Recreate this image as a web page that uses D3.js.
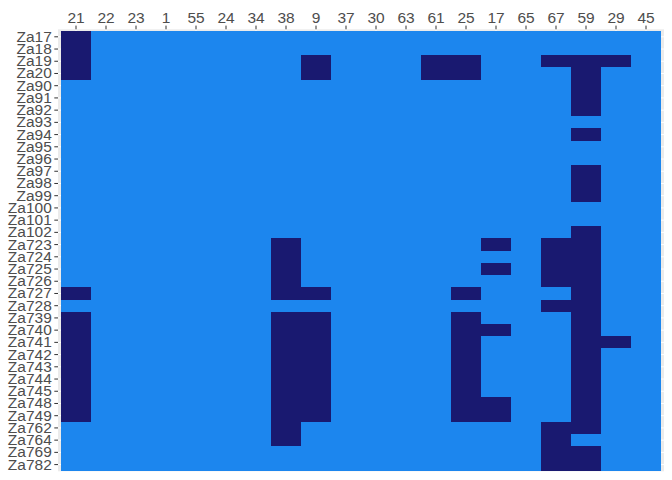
<!DOCTYPE html>
<html>
<head>
<meta charset="utf-8">
<script src="https://cdn.jsdelivr.net/npm/d3@7"></script>
<style>
  body { margin: 0; background: #fff; }
  text { font-family: "Liberation Sans", Arial, sans-serif; }
</style>
</head>
<body>
<svg id="chart" width="672" height="480"></svg>
<script>
var cols = ['21', '22', '23', '1', '55', '24', '34', '38', '9', '37',
            '30', '63', '61', '25', '17', '65', '67', '59', '29', '45'];
var rows = ['Za17', 'Za18', 'Za19', 'Za20', 'Za90', 'Za91', 'Za92', 'Za93', 'Za94',
            'Za95', 'Za96', 'Za97', 'Za98', 'Za99', 'Za100', 'Za101', 'Za102',
            'Za723', 'Za724', 'Za725', 'Za726', 'Za727', 'Za728', 'Za739', 'Za740',
            'Za741', 'Za742', 'Za743', 'Za744', 'Za745', 'Za748', 'Za749',
            'Za762', 'Za764', 'Za769', 'Za782'];
// columns marked 1 (dark) for each row, same order as rows
var present = [
  ['21'], ['21'],
  ['21', '9', '61', '25', '67', '59', '29'],
  ['21', '9', '61', '25', '59'],
  ['59'], ['59'], ['59'], [], ['59'], [], [], ['59'], ['59'], ['59'], [], [], ['59'],
  ['38', '17', '67', '59'],
  ['38', '67', '59'],
  ['38', '17', '67', '59'],
  ['38', '67', '59'],
  ['21', '38', '9', '25', '59'],
  ['67', '59'],
  ['21', '38', '9', '25', '59'],
  ['21', '38', '9', '25', '17', '59'],
  ['21', '38', '9', '25', '59', '29'],
  ['21', '38', '9', '25', '59'],
  ['21', '38', '9', '25', '59'],
  ['21', '38', '9', '25', '59'],
  ['21', '38', '9', '25', '59'],
  ['21', '38', '9', '25', '17', '59'],
  ['21', '38', '9', '25', '17', '59'],
  ['38', '67', '59'],
  ['38', '67'],
  ['67', '59'],
  ['67', '59']
];

var cells = [];
rows.forEach(function(r, i) {
  cols.forEach(function(c) {
    cells.push({row: r, col: c, v: present[i].indexOf(c) >= 0 ? 1 : 0});
  });
});

var svg = d3.select('#chart');
var x = d3.scaleBand().domain(cols).range([61, 661]);
var y = d3.scaleBand().domain(rows).range([30.7, 470.7]);
var fill = d3.scaleOrdinal().domain([0, 1]).range(['#1C86EE', '#191970']);

// panel background, a little larger than the tiles
svg.append('rect')
  .attr('x', 58).attr('y', 29.3)
  .attr('width', 606).attr('height', 442)
  .attr('fill', '#EBEBEB');

var grid = svg.append('g').attr('stroke', '#fff').attr('stroke-width', 1);
grid.selectAll('line.h').data(rows).enter().append('line')
  .attr('x1', 58).attr('x2', 664)
  .attr('y1', function(d) { return y(d) + y.bandwidth() / 2; })
  .attr('y2', function(d) { return y(d) + y.bandwidth() / 2; });
grid.selectAll('line.v').data(cols).enter().append('line')
  .attr('y1', 29.3).attr('y2', 471.3)
  .attr('x1', function(d) { return x(d) + x.bandwidth() / 2; })
  .attr('x2', function(d) { return x(d) + x.bandwidth() / 2; });

svg.append('g').selectAll('rect').data(cells).enter().append('rect')
  .attr('x', function(d) { return x(d.col); })
  .attr('y', function(d) { return y(d.row); })
  .attr('width', x.bandwidth() + 0.3)
  .attr('height', y.bandwidth() + 0.3)
  .attr('fill', function(d) { return fill(d.v); })
  .attr('shape-rendering', 'crispEdges');

var xAxis = svg.append('g')
  .attr('transform', 'translate(0,29.3)')
  .call(d3.axisTop(x).tickSize(3.7).tickPadding(2.5));
var yAxis = svg.append('g')
  .attr('transform', 'translate(58,0)')
  .call(d3.axisLeft(y).tickSize(3.7).tickPadding(2.5));

[xAxis, yAxis].forEach(function(a) {
  a.select('.domain').remove();
  a.selectAll('.tick line').attr('stroke', '#333333');
  a.selectAll('.tick text')
    .attr('fill', '#4D4D4D')
    .style('font-size', '15.5px');
});
</script>
</body>
</html>
